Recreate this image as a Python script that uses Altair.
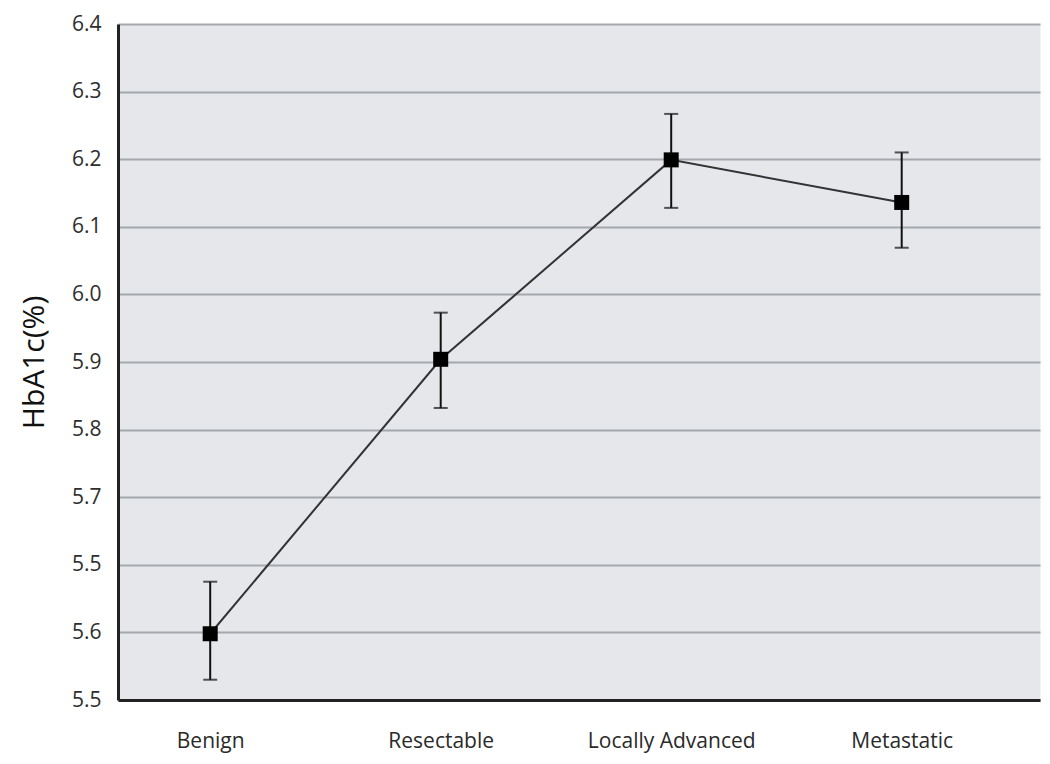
import altair as alt
import pandas as pd

# Data (y in the chart's own plotting scale)
categories = ["Benign", "Resectable", "Locally Advanced", "Metastatic"]
cat_index = [0, 1, 2, 3]
means = [5.498, 5.904, 6.199, 6.136]
upper = [5.575, 5.973, 6.267, 6.210]
lower = [5.430, 5.832, 6.128, 6.069]

# y tick positions and their printed labels (as printed in the original figure)
tick_values = [5.4, 5.5, 5.6, 5.7, 5.8, 5.9, 6.0, 6.1, 6.2, 6.3, 6.4]
tick_labels = ["5.5", "5.6", "5.5", "5.7", "5.8", "5.9", "6.0", "6.1", "6.2", "6.3", "6.4"]

df = pd.DataFrame({"idx": cat_index, "cat": categories, "mean": means, "lo": lower, "hi": upper})

ylab_expr = "[" + ",".join("'" + t + "'" for t in tick_labels) + "][round((datum.value - 5.4) * 10)]"
xlab_expr = "[" + ",".join("'" + c + "'" for c in categories) + "][round(datum.value)]"

FONT = "Open Sans"
DARK = "#222222"

x_enc = alt.X(
    "idx:Q",
    scale=alt.Scale(domain=[-0.4, 3.6], nice=False, zero=False),
    axis=alt.Axis(
        values=cat_index, labelExpr=xlab_expr, title=None, grid=False, ticks=False,
        domainColor=DARK, domainWidth=3, labelFont=FONT, labelFontSize=21,
        labelColor="#2a2a2a", labelPadding=30,
    ),
)
y_scale = alt.Scale(domain=[5.4, 6.4], nice=False, zero=False)
y_axis = alt.Axis(
    values=tick_values, labelExpr=ylab_expr, title="HbA1c(%)", grid=True,
    gridColor="#a4a7ab", gridWidth=2, ticks=False, domainColor=DARK, domainWidth=3,
    labelFont=FONT, labelFontSize=21, labelColor="#2e2e2e", labelPadding=17,
    titleFont=FONT, titleFontSize=30, titleFontWeight="normal", titleColor="#111111",
    titlePadding=22,
)

base = alt.Chart(df)

line = base.mark_line(color="#333333", strokeWidth=2).encode(
    x=x_enc, y=alt.Y("mean:Q", scale=y_scale, axis=y_axis)
)
bars = base.mark_rule(color="#111111", strokeWidth=2).encode(
    x=x_enc, y=alt.Y("lo:Q", scale=y_scale, axis=y_axis), y2="hi:Q"
)
cap_lo = base.mark_tick(color="#111111", thickness=2, size=14, orient="horizontal").encode(
    x=x_enc, y=alt.Y("lo:Q", scale=y_scale, axis=y_axis)
)
cap_hi = base.mark_tick(color="#111111", thickness=2, size=14, orient="horizontal").encode(
    x=x_enc, y=alt.Y("hi:Q", scale=y_scale, axis=y_axis)
)
pts = base.mark_square(color="#000000", size=225, opacity=1, filled=True).encode(
    x=x_enc, y=alt.Y("mean:Q", scale=y_scale, axis=y_axis)
)

chart = (
    alt.layer(line, bars, cap_lo, cap_hi, pts)
    .properties(
        width=922, height=676,
        autosize=alt.AutoSizeParams(type="none"),
        padding={"left": 110, "top": 16, "right": 2, "bottom": 60},
        background="white",
    )
    .configure_view(fill="#e5e7ea", stroke="transparent")
)

chart.save("out.html", embed_options={"renderer": "svg", "actions": False})
